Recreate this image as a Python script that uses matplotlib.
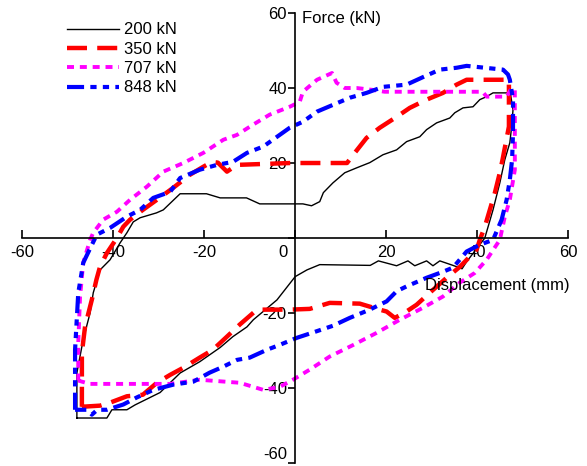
import matplotlib
matplotlib.use('Agg')
import matplotlib.pyplot as plt
import matplotlib.transforms as mtransforms

# 200 kN
x200 = [-48.0, -48.0, -46.6, -45.1, -44.4, -42.9, -40.7, -38.5, -37.0, -35.6, -34.1, -30.5, -29.0,
        -25.3, -19.5, -16.5, -10.7, -7.8, -1.2, 1.7, 3.6, 5.4, 6.2, 8.3, 10.9, 13.5, 16.4, 19.3,
        22.3, 24.5, 27.4, 28.9, 31.1, 34.0, 35.1, 36.9, 39.1, 40.6, 42.1, 43.5, 47.3, 47.9, 47.6,
        47.2, 46.1, 45.0, 43.5, 41.7, 39.5, 37.7, 36.7, 34.7, 31.8, 30.3, 28.9, 26.3, 24.8, 22.3,
        18.3, 16.5, 5.4, 2.6, 0.0, -4.0, -9.2, -10.6, -13.7, -16.5, -21.0, -25.3, -29.7, -35.2,
        -37.0, -40.3, -41.4, -48.0]
y200 = [-48.0, -36.0, -27.0, -20.0, -14.6, -8.5, -5.8, -1.3, 1.4, 4.3, 5.4, 6.7, 7.5,
        11.8, 11.8, 10.7, 10.7, 9.1, 9.1, 9.1, 8.6, 9.7, 12.1, 14.7, 17.4, 18.7, 20.1, 22.2,
        23.5, 25.7, 27.0, 28.9, 30.7, 32.0, 33.4, 34.7, 35.0, 36.9, 37.7, 38.7, 38.7, 34.2, 29.7,
        25.4, 20.9, 14.7, 7.5, 0.0, -3.5, -6.3, -8.2, -7.3, -6.1, -7.4, -6.1, -7.4, -6.1, -7.4,
        -6.1, -7.3, -7.1, -8.5, -10.3, -16.5, -21.8, -23.7, -26.3, -29.2, -33.0, -36.0, -41.2, -44.5,
        -45.8, -45.8, -48.0, -48.0]

# 350 kN
x350 = [-46.9, -46.9, -46.2, -44.7, -43.7, -42.9, -41.4, -39.2, -37.8, -36.3, -33.5, -30.4, -26.8,
        -23.1, -20.2, -18.3, -17.0, -15.0, -12.8, -1.0, 11.4, 13.1, 15.7, 18.6, 22.3, 25.2, 28.9,
        32.5, 35.5, 37.7, 47.0, 47.0, 45.6, 45.0, 43.9, 42.8, 41.7, 40.6, 39.9, 36.2, 33.3, 29.6,
        26.7, 24.1, 21.9, 20.1, 18.6, 14.2, 7.6, 3.2, -1.2, -8.4, -12.2, -15.0, -18.1, -21.0,
        -24.6, -27.5, -30.4, -33.5, -37.0, -40.7, -42.9, -46.9]
y350 = [-45.0, -30.6, -23.6, -16.4, -11.1, -7.6, -4.0, 0.0, 3.0, 4.9, 7.5, 10.2, 13.4,
        16.9, 19.0, 20.3, 20.1, 17.7, 19.5, 20.0, 20.0, 22.7, 26.7, 29.4, 32.3, 34.7, 36.9,
        38.7, 40.9, 42.2, 42.2, 29.7, 20.9, 17.4, 12.0, 7.5, 3.0, -0.5, -3.1, -7.7, -10.6, -14.6,
        -17.8, -19.9, -21.3, -19.6, -19.1, -17.5, -17.3, -18.9, -19.1, -19.1, -23.1, -26.3, -29.8, -31.9,
        -34.6, -36.5, -38.6, -41.8, -42.2, -43.9, -44.7, -45.0]

# 707 kN
x707 = [-47.7, -47.7, -47.3, -46.6, -45.1, -44.4, -42.2, -39.2, -36.3, -32.6, -29.0, -24.6, -20.2,
        -15.8, -12.8, -9.3, -5.6, -1.2, 1.0, 1.7, 4.8, 8.1, 9.1, 10.9, 13.5, 17.0, 19.7, 41.2,
        42.1, 46.5, 47.6, 48.3, 48.3, 48.3, 47.2, 46.1, 45.0, 42.1, 39.5, 36.2, 32.5, 28.1, 23.0,
        17.9, 12.8, 7.6, 3.2, -0.5, -3.4, -7.0, -12.2, -21.0, -27.5, -45.1, -46.9, -47.7]
y707 = [-38.0, -28.0, -15.6, -6.6, -0.5, 1.4, 4.9, 7.0, 10.2, 13.7, 17.7, 20.0, 22.7,
        26.2, 27.5, 30.2, 32.9, 35.0, 36.3, 39.0, 42.2, 44.0, 41.4, 40.0, 40.0, 39.5, 39.0, 39.0,
        37.7, 37.7, 40.0, 39.5, 25.4, 18.2, 10.2, 5.7, -0.5, -5.8, -9.3, -11.9, -15.6, -18.6, -21.8,
        -25.3, -28.5, -31.6, -35.1, -37.8, -39.7, -40.5, -38.6, -37.8, -38.9, -38.9, -38.3, -38.0]

# 848 kN
x848 = [-48.4, -48.4, -47.7, -46.6, -44.7, -43.6, -40.7, -37.0, -34.1, -31.2, -27.5, -25.3, -21.0,
        -17.2, -13.7, -10.6, -7.0, -3.4, -1.2, 1.7, 4.8, 8.3, 12.0, 15.7, 19.3, 24.5, 28.1, 31.8,
        35.5, 37.7, 45.7, 46.8, 47.2, 47.9, 47.9, 47.7, 47.2, 46.5, 45.4, 43.5, 40.6, 37.7, 34.7,
        32.5, 28.9, 24.5, 22.3, 20.1, 16.4, 12.0, 8.3, 3.9, 0.4, -3.4, -6.2, -10.0, -12.8, -15.8,
        -18.8, -22.4, -26.8, -31.2, -34.8, -37.8, -41.4, -43.5, -44.7, -45.8, -48.4]
y848 = [-45.8, -29.8, -14.7, -6.6, -1.8, 0.9, 2.7, 5.7, 7.5, 10.7, 12.3, 16.0, 18.2,
        19.5, 20.3, 22.7, 24.4, 27.5, 29.4, 31.0, 33.7, 35.5, 37.4, 38.7, 40.3, 40.9, 42.9, 44.9,
        45.4, 45.9, 44.9, 43.6, 42.2, 36.9, 28.1, 20.9, 15.5, 10.2, 4.9, -0.5, -1.8, -3.6, -7.9,
        -9.0, -10.6, -12.9, -14.2, -16.9, -19.1, -21.3, -23.4, -25.2, -26.6, -28.5, -29.8, -31.9, -32.5, -34.3,
        -35.9, -38.3, -39.1, -40.5, -42.5, -44.4, -45.8, -45.8, -47.1, -45.8, -45.8]

labels = ['200 kN', '350 kN', '707 kN', '848 kN']
xticks = [-60, -40, -20, 0, 20, 40, 60]
yticks = [-60, -40, -20, 0, 20, 40, 60]

plt.rcParams['font.family'] = ['Liberation Sans', 'DejaVu Sans']
plt.rcParams['font.size'] = 12

fig = plt.figure(figsize=(5.87, 4.66), dpi=100)
ax = fig.add_axes([0.038, 0.0064, 0.9297, 0.9657])

ax.plot(x200, y200, color='black', lw=1.0, label=labels[0])
ax.plot(x350, y350, color='#ff0000', lw=3.2, dashes=(4.5, 2.3), label=labels[1])
ax.plot(x707, y707, color='#ff00ff', lw=2.8, dashes=(1.8, 1.5), label=labels[2])
ax.plot(x848, y848, color='#0000ff', lw=3.0, dashes=(4.1, 1.5, 1.5, 1.5, 1.5, 1.5), label=labels[3])

ax.set_xlim(-60, 60)
ax.set_ylim(-60, 60)
ax.spines['left'].set_position('zero')
ax.spines['bottom'].set_position('zero')
ax.spines['top'].set_visible(False)
ax.spines['right'].set_visible(False)
for s in ['left', 'bottom']:
    ax.spines[s].set_linewidth(1.2)

ax.set_xticks(xticks)
ax.set_xticklabels([str(t) if t != 0 else '' for t in xticks])
ax.set_yticks(yticks)
ax.set_yticklabels([str(t) if t != 0 else '' for t in yticks])
ax.tick_params(axis='x', direction='in', length=6, width=1.2, pad=5, labelsize=12)
ax.tick_params(axis='y', direction='out', length=5, width=1.2, pad=1, labelsize=12)
ax.text(-1.7, -1.8, '0', ha='right', va='top', fontsize=12)

# keep the bottom "-60" label inside the figure
fig.canvas.draw()
lab = ax.get_yticklabels()[0]
lab.set_transform(lab.get_transform() + mtransforms.ScaledTranslation(0, 7 / 72, fig.dpi_scale_trans))

ax.text(1.6, 58.6, 'Force (kN)', ha='left', va='center', fontsize=12)
ax.text(28.5, -13.8, 'Displacement (mm)', ha='left', va='baseline', fontsize=12)

ax.legend(loc='upper left', bbox_to_anchor=(0.082, 0.979), frameon=False, handlelength=3.1,
          handletextpad=0.3, labelspacing=0.26, borderpad=0, borderaxespad=0, fontsize=12)

fig.savefig('out.png', dpi=100)
